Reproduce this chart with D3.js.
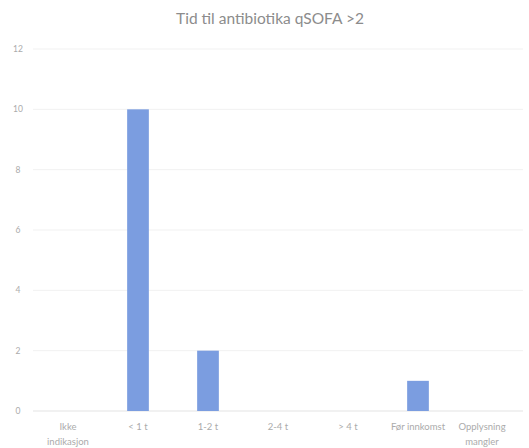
<!DOCTYPE html>
<html><head><meta charset="utf-8">
<script src="https://cdn.jsdelivr.net/npm/d3@7"></script>
<style>body{margin:0;background:#fff;}svg{display:block;font-family:Lato,"Open Sans",sans-serif;}</style>
</head><body>
<svg id="c" width="529" height="448"></svg>
<script>
const categories = [["Ikke","indikasjon"],["< 1 t"],["1-2 t"],["2-4 t"],["> 4 t"],["Før innkomst"],["Opplysning","mangler"]];
const values = [0, 10, 2, 0, 0, 1, 0];
const yTicks = [0, 2, 4, 6, 8, 10, 12];
const title = "Tid til antibiotika qSOFA >2";

(function () {
const svg = d3.select("#c");
const mLeft = 33, mRight = 523, mTop = 49, mBottom = 411;
const keys = categories.map(c => c.join(" "));
const x = d3.scaleBand().domain(keys).range([mLeft, mRight]).paddingInner(0.69).paddingOuter(0.345);
const y = d3.scaleLinear().domain([0, 12]).range([mBottom, mTop]);

svg.append("text").attr("x", 270).attr("y", 24).attr("text-anchor", "middle")
  .attr("font-size", 15.5).attr("fill", "#8c8c8c").text(title);

const g = svg.append("g");
g.selectAll("line.grid").data(yTicks).join("line")
  .attr("x1", mLeft).attr("x2", mRight)
  .attr("y1", d => y(d)).attr("y2", d => y(d))
  .attr("stroke", d => d === 0 ? "#e3e3e3" : "#f1f1f1").attr("stroke-width", 1);

g.selectAll("text.yt").data(yTicks).join("text")
  .attr("x", 18).attr("y", d => y(d) + 3).attr("text-anchor", "middle")
  .attr("font-size", 8.5).attr("fill", "#ababab").text(d => d);

g.selectAll("rect").data(values).join("rect")
  .attr("x", (d, i) => x(keys[i])).attr("width", x.bandwidth())
  .attr("y", d => y(d)).attr("height", d => y(0) - y(d))
  .attr("fill", "#7b9de0");

categories.forEach((c, i) => {
  let cx = x(keys[i]) + x.bandwidth() / 2;
  if (i === categories.length - 1) cx -= 6;
  const t = svg.append("text").attr("x", cx).attr("y", 430).attr("text-anchor", "middle")
    .attr("font-size", 9.5).attr("fill", "#ababab");
  c.forEach((line, j) => t.append("tspan").attr("x", cx).attr("dy", j === 0 ? 0 : 15).text(line));
});
})();
</script>
</body></html>
